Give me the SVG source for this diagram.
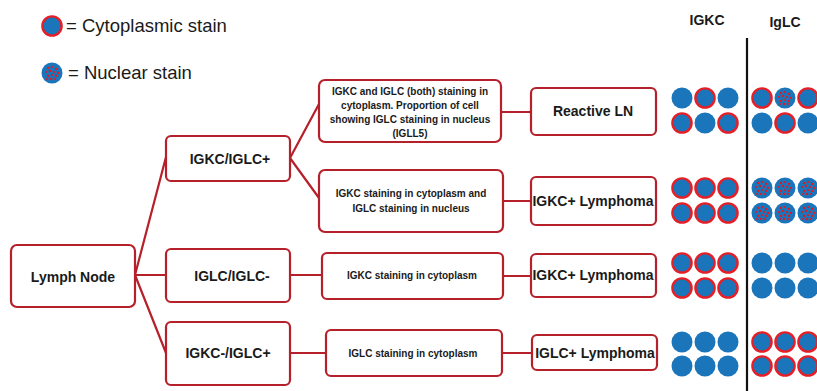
<svg xmlns="http://www.w3.org/2000/svg" xmlns:xlink="http://www.w3.org/1999/xlink" width="817" height="391" viewBox="0 0 817 391">
<style>
.box{fill:#fff;stroke:#b5202a;stroke-width:2.2}
.ln{stroke:#b5202a;stroke-width:2.2;fill:none}
.t{font-family:"Liberation Sans",Arial,sans-serif;fill:#1a1a1a;text-anchor:middle}
.b14{font-size:14px;font-weight:bold}
.b10{font-size:10px;font-weight:bold}
.lg{font-family:"Liberation Sans",Arial,sans-serif;font-size:18.5px;fill:#1a1a1a}
.plain{fill:#1b75bb}
.cyto{fill:#1b75bb;stroke:#e61e25;stroke-width:2.4}
</style>
<defs>
<g id="pc"><circle r="10.5" class="plain"/></g>
<g id="cc"><circle r="9.6" class="cyto"/></g>
<g id="nc"><circle r="10.5" class="plain"/><g fill="#e8161e"><circle cx="-4" cy="-5" r="1.15"/><circle cx="0" cy="-6" r="1.05"/><circle cx="4" cy="-4" r="1.15"/><circle cx="-6" cy="-1" r="1.05"/><circle cx="-2" cy="-2" r="1.15"/><circle cx="2" cy="-1" r="1.05"/><circle cx="6" cy="0" r="1.15"/><circle cx="-4" cy="3" r="1.15"/><circle cx="0" cy="2" r="1.05"/><circle cx="4" cy="3" r="1.15"/><circle cx="-1" cy="6" r="1.15"/><circle cx="3" cy="6" r="1.05"/><circle cx="-5" cy="6" r="0.95"/></g></g>
</defs>

<g id="legend">
<use xlink:href="#cc" x="52" y="26"/>
<text class="lg" x="66" y="32">= Cytoplasmic stain</text>
<use xlink:href="#nc" x="52" y="73"/>
<text class="lg" x="68" y="79">= Nuclear stain</text>
</g>

<g id="connectors">
<path class="ln" d="M135,275 L166,157 M135,275 L166,275 M135,275 L166,353"/>
<path class="ln" d="M290,158 L319,104 M290,158 L319,198"/>
<path class="ln" d="M290,275 L322,275 M290,353 L326,353"/>
<path class="ln" d="M501,112 L531,112 M503,201 L531,201 M503,276 L531,276 M502,353 L532,353"/>
</g>

<g id="lymph-node"><rect class="box" x="11" y="245" width="124" height="62" rx="6"/><text class="t b14" x="73" y="282">Lymph Node</text></g>
<g id="igkc-iglc-pos"><rect class="box" x="166" y="136" width="124" height="45" rx="5"/><text class="t b14" x="230" y="164">IGKC/IGLC+</text></g>
<g id="iglc-iglc-neg"><rect class="box" x="166" y="249" width="124" height="53" rx="5"/><text class="t b14" x="232" y="281">IGLC/IGLC-</text></g>
<g id="igkc-neg-iglc-pos"><rect class="box" x="166" y="322" width="124" height="63" rx="5"/><text class="t b14" x="228" y="358">IGKC-/IGLC+</text></g>

<g id="desc1"><rect class="box" x="319" y="80" width="182" height="62" rx="6"/>
<text class="t b10" x="410"><tspan x="410" y="94.5">IGKC and IGLC (both) staining in</tspan><tspan x="410" y="108.5">cytoplasm. Proportion of cell</tspan><tspan x="410" y="122.5">showing IGLC staining in nucleus</tspan><tspan x="410" y="136.5">(IGLL5)</tspan></text></g>
<g id="desc2"><rect class="box" x="319" y="170" width="184" height="62" rx="6"/>
<text class="t b10"><tspan x="411" y="197">IGKC staining in cytoplasm and</tspan><tspan x="411" y="212">IGLC staining in nucleus</tspan></text></g>
<g id="desc3"><rect class="box" x="322" y="253" width="181" height="46" rx="5"/><text class="t b10" x="412" y="279">IGKC staining in cytoplasm</text></g>
<g id="desc4"><rect class="box" x="326" y="330" width="176" height="46" rx="5"/><text class="t b10" x="413" y="357">IGLC staining in cytoplasm</text></g>

<g id="reactive-ln"><rect class="box" x="531" y="88" width="125" height="47" rx="5"/><text class="t b14" x="593" y="116">Reactive LN</text></g>
<g id="igkc-lymphoma-1"><rect class="box" x="531" y="177" width="125" height="48" rx="5"/><text class="t b14" x="593" y="206" font-size="13.5px">IGKC+ Lymphoma</text></g>
<g id="igkc-lymphoma-2"><rect class="box" x="531" y="254" width="125" height="43" rx="5"/><text class="t b14" x="593" y="280" font-size="13.5px">IGKC+ Lymphoma</text></g>
<g id="iglc-lymphoma"><rect class="box" x="532" y="335" width="125" height="35" rx="5"/><text class="t b14" x="595" y="358" font-size="13.5px">IGLC+ Lymphoma</text></g>

<g id="stain-panel">
<text class="t b14" x="707" y="25" font-size="14.5px">IGKC</text>
<text class="t b14" x="785" y="27" font-size="17px">IgLC</text>
<line x1="747" y1="38" x2="747" y2="391" stroke="#111" stroke-width="2.2"/>
<!-- row 1 -->
<use xlink:href="#pc" x="682" y="98"/><use xlink:href="#cc" x="705" y="98"/><use xlink:href="#pc" x="728" y="98"/>
<use xlink:href="#cc" x="682" y="123"/><use xlink:href="#pc" x="705" y="123"/><use xlink:href="#cc" x="728" y="123"/>
<use xlink:href="#cc" x="762" y="98"/><use xlink:href="#nc" x="785" y="98"/><use xlink:href="#cc" x="808" y="98"/>
<use xlink:href="#pc" x="762" y="123"/><use xlink:href="#cc" x="785" y="123"/><use xlink:href="#pc" x="808" y="123"/>
<!-- row 2 -->
<use xlink:href="#cc" x="682" y="188"/><use xlink:href="#cc" x="705" y="188"/><use xlink:href="#cc" x="728" y="188"/>
<use xlink:href="#cc" x="682" y="213"/><use xlink:href="#cc" x="705" y="213"/><use xlink:href="#cc" x="728" y="213"/>
<use xlink:href="#nc" x="762" y="188"/><use xlink:href="#nc" x="785" y="188"/><use xlink:href="#nc" x="808" y="188"/>
<use xlink:href="#nc" x="762" y="213"/><use xlink:href="#nc" x="785" y="213"/><use xlink:href="#nc" x="808" y="213"/>
<!-- row 3 -->
<use xlink:href="#cc" x="682" y="263"/><use xlink:href="#cc" x="705" y="263"/><use xlink:href="#cc" x="728" y="263"/>
<use xlink:href="#cc" x="682" y="288"/><use xlink:href="#cc" x="705" y="288"/><use xlink:href="#cc" x="728" y="288"/>
<use xlink:href="#pc" x="762" y="263"/><use xlink:href="#pc" x="785" y="263"/><use xlink:href="#pc" x="808" y="263"/>
<use xlink:href="#pc" x="762" y="288"/><use xlink:href="#pc" x="785" y="288"/><use xlink:href="#pc" x="808" y="288"/>
<!-- row 4 -->
<use xlink:href="#pc" x="682" y="342"/><use xlink:href="#pc" x="705" y="342"/><use xlink:href="#pc" x="728" y="342"/>
<use xlink:href="#pc" x="682" y="366"/><use xlink:href="#pc" x="705" y="366"/><use xlink:href="#pc" x="728" y="366"/>
<use xlink:href="#cc" x="762" y="342"/><use xlink:href="#cc" x="785" y="342"/><use xlink:href="#cc" x="808" y="342"/>
<use xlink:href="#cc" x="762" y="366"/><use xlink:href="#cc" x="785" y="366"/><use xlink:href="#cc" x="808" y="366"/>
</g>
</svg>
